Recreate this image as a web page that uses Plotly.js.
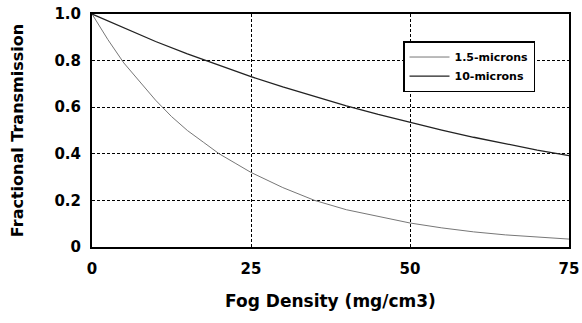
<!DOCTYPE html>
<html>
<head>
<meta charset="utf-8">
<script src="https://cdn.plot.ly/plotly-3.0.1.min.js"></script>
<style>html,body{margin:0;padding:0;background:#fff;}#chart{width:582px;height:323px;}</style>
</head>
<body>
<div id="chart"></div>
<script>
var fogDensity15 = [0, 2.5, 5, 7.5, 10, 12.5, 15, 17.5, 20, 22.5, 25, 30, 35, 40, 45, 50, 55, 60, 65, 70, 75];
var trans15 = [1.0, 0.89, 0.79, 0.71, 0.63, 0.56, 0.50, 0.45, 0.40, 0.36, 0.32, 0.255, 0.20, 0.16, 0.13, 0.103, 0.082, 0.065, 0.052, 0.042, 0.034];
var fogDensity10 = [0, 5, 10, 15, 20, 25, 30, 35, 40, 45, 50, 55, 60, 65, 70, 75];
var trans10 = [1.0, 0.94, 0.882, 0.829, 0.779, 0.731, 0.687, 0.645, 0.606, 0.569, 0.534, 0.502, 0.471, 0.443, 0.416, 0.392];
var seriesNames = ["1.5-microns", "10-microns"];
var xTickVals = [0, 25, 50, 75];
var xTickText = ["0", "25", "50", "75"];
var yTickVals = [0, 0.2, 0.4, 0.6, 0.8, 1.0];
var yTickText = ["0", "0.2", "0.4", "0.6", "0.8", "1.0"];

var wideFont = "DejaVu Sans, sans-serif";
var traces = [
  {x: fogDensity15, y: trans15, name: seriesNames[0], mode: "lines", line: {color: "#777777", width: 1}},
  {x: fogDensity10, y: trans10, name: seriesNames[1], mode: "lines", line: {color: "#222222", width: 1.3}}
];
var layout = {
  width: 582, height: 323,
  margin: {l: 92, r: 13, t: 14, b: 76},
  paper_bgcolor: "#fff", plot_bgcolor: "#fff",
  font: {family: wideFont, color: "#000"},
  showlegend: true,
  legend: {
    x: 0.652, y: 0.884, xanchor: "left", yanchor: "top",
    bordercolor: "#000", borderwidth: 1.5, bgcolor: "#fff",
    font: {family: wideFont, size: 11, weight: "bold", color: "#000"},
    traceorder: "normal", tracegroupgap: 0, itemwidth: 40
  },
  xaxis: {
    range: [0, 75], tickvals: xTickVals, ticktext: xTickText,
    showline: true, linecolor: "#000", linewidth: 2, mirror: true,
    showgrid: true, gridcolor: "#000", gridwidth: 1, griddash: "3px,2px",
    zeroline: false, ticks: "outside", ticklen: 7, tickcolor: "rgba(0,0,0,0)",
    tickfont: {family: wideFont, size: 15, weight: "bold", color: "#000"},
    title: {text: "Fog Density (mg/cm3)", standoff: 18, font: {family: wideFont, size: 17, weight: "bold", color: "#000"}}
  },
  yaxis: {
    range: [0, 1.0], tickvals: yTickVals, ticktext: yTickText,
    showline: true, linecolor: "#000", linewidth: 2, mirror: true,
    showgrid: true, gridcolor: "#000", gridwidth: 1, griddash: "3px,2px",
    zeroline: false, ticks: "outside", ticklen: 6, tickcolor: "rgba(0,0,0,0)",
    tickfont: {family: wideFont, size: 15, weight: "bold", color: "#000"},
    title: {text: "Fractional Transmission", standoff: 27, font: {family: wideFont, size: 16, weight: "bold", color: "#000"}}
  }
};
Plotly.newPlot("chart", traces, layout, {displayModeBar: false, staticPlot: true});
</script>
</body>
</html>
